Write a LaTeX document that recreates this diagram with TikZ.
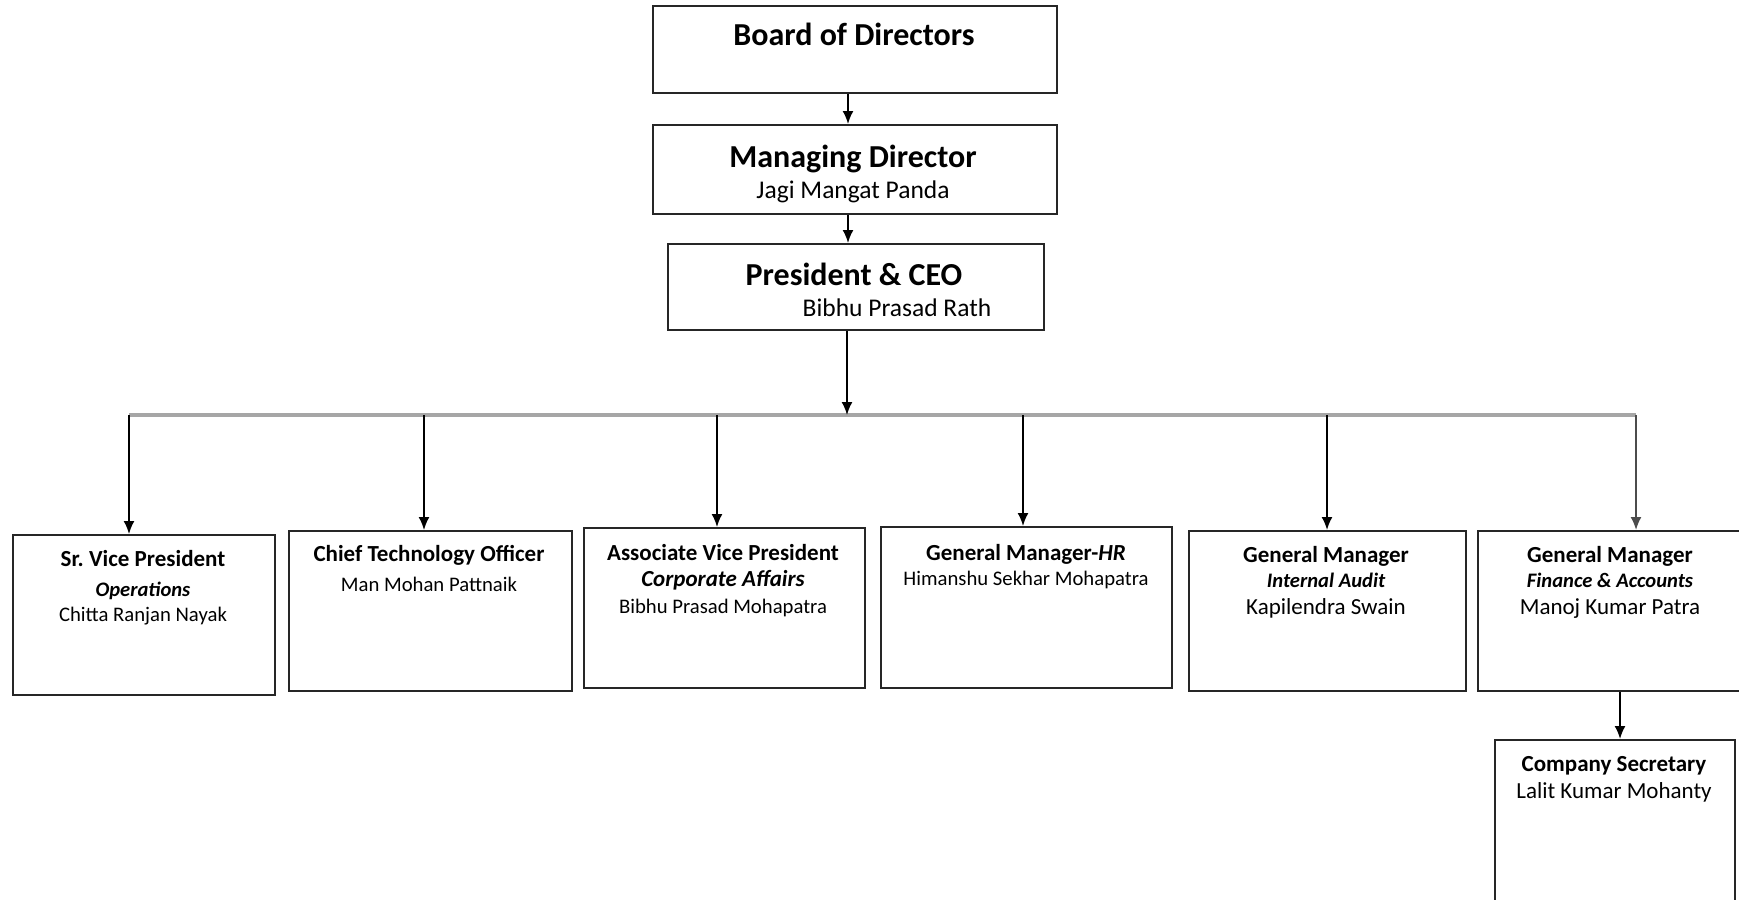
\documentclass[tikz,border=0pt]{standalone}
\usepackage{fontspec}
\setmainfont{Carlito}
\usetikzlibrary{arrows.meta}
\begin{document}
\begin{tikzpicture}[x=1pt,y=-1pt,
  box/.style={draw=black!85, line width=2.2pt, anchor=north west, inner sep=0pt},
  link/.style={draw=black, line width=1.8pt, -{Latex[length=13pt,width=11pt]}},
  bus/.style={draw=gray!70, line width=4.5pt},
  headline/.style={anchor=base, font=\fontsize{32}{38}\selectfont\bfseries},
  headname/.style={anchor=base, font=\fontsize{25.5}{30}\selectfont},
  title/.style={anchor=base, font=\fontsize{23}{27}\selectfont\bfseries},
  dept/.style={anchor=base, font=\fontsize{20.6}{25}\selectfont\bfseries\itshape},
  deptbig/.style={anchor=base, font=\fontsize{23}{27}\selectfont\bfseries\itshape},
  person/.style={anchor=base, font=\fontsize{20.7}{25}\selectfont},
  personbig/.style={anchor=base, font=\fontsize{23}{27}\selectfont}]
\useasboundingbox (0,0) rectangle (1739,899);

% top of the hierarchy
\node[box, minimum width=404pt, minimum height=87pt] (board) at (652,5) {};
\node[box, minimum width=404pt, minimum height=89pt] (md) at (652,124) {};
\node[box, minimum width=376pt, minimum height=86pt] (pres) at (667,243) {};

\node[headline] (tboard) at (854,46) {Board of Directors};
\node[headline] (tmd) at (853,167) {Managing Director};
\node[headname] (nmd) at (853,198) {Jagi Mangat Panda};
\node[headline] (tpres) at (854,285) {President \& CEO};
\node[headname] (npres) at (897,316) {Bibhu Prasad Rath};

% second level boxes
\node[box, minimum width=262pt, minimum height=160pt] (svp) at (12,534) {};
\node[box, minimum width=283pt, minimum height=160pt] (cto) at (288,530) {};
\node[box, minimum width=281pt, minimum height=160pt] (avp) at (583,527) {};
\node[box, minimum width=291pt, minimum height=161pt] (hr) at (880,526) {};
\node[box, minimum width=277pt, minimum height=160pt] (ia) at (1188,530) {};
\node[box, minimum width=266pt, minimum height=160pt] (fa) at (1477,530) {};
\node[box, minimum width=240pt, minimum height=200pt] (cs) at (1494,739) {};

\node[title] (tsvp) at (143,566) {Sr.\ Vice President};
\node[dept] (dsvp) at (143,596) {Operations};
\node[person] (nsvp) at (143,621) {Chitta Ranjan Nayak};

\node[title] (tcto) at (429,561) {Chief Technology Officer};
\node[person] (ncto) at (429,591) {Man Mohan Pattnaik};

\node[title] (tavp) at (723,560) {Associate Vice President};
\node[deptbig] (davp) at (723,586) {Corporate Affairs};
\node[person] (navp) at (723,613) {Bibhu Prasad Mohapatra};

\node[title] (thr) at (1026,560) {General Manager-\textit{HR}};
\node[person] (nhr) at (1026,585) {Himanshu Sekhar Mohapatra};

\node[title] (tia) at (1326,562) {General Manager};
\node[dept] (dia) at (1326,587) {Internal Audit};
\node[personbig] (nia) at (1326,614) {Kapilendra Swain};

\node[title] (tfa) at (1610,562) {General Manager};
\node[dept] (dfa) at (1610,587) {Finance \& Accounts};
\node[personbig] (nfa) at (1610,614) {Manoj Kumar Patra};

\node[title] (tcs) at (1614,771) {Company Secretary};
\node[personbig] (ncs) at (1614,798) {Lalit Kumar Mohanty};

% connectors
\coordinate (ax) at (848,0);
\draw[link] (ax |- board.south) -- (ax |- md.north);
\draw[link] (ax |- md.south) -- (ax |- pres.north);

\coordinate (d1) at (129,415);
\coordinate (d2) at (424,415);
\coordinate (d3) at (717,415);
\coordinate (d4) at (1023,415);
\coordinate (d5) at (1327,415);
\coordinate (d6) at (1636,415);
\coordinate (bc) at (847,415);

\draw[bus] (d1) -- (d6);
\draw[link] (bc |- pres.south) -- (bc);
\draw[link] (d1) -- (d1 |- svp.north);
\draw[link] (d2) -- (d2 |- cto.north);
\draw[link] (d3) -- (d3 |- avp.north);
\draw[link] (d4) -- (d4 |- hr.north);
\draw[link] (d5) -- (d5 |- ia.north);
\draw[link, draw=black!70] (d6) -- (d6 |- fa.north);

\coordinate (fc) at (1620,0);
\draw[link] (fc |- fa.south) -- (fc |- cs.north);
\end{tikzpicture}
\end{document}
